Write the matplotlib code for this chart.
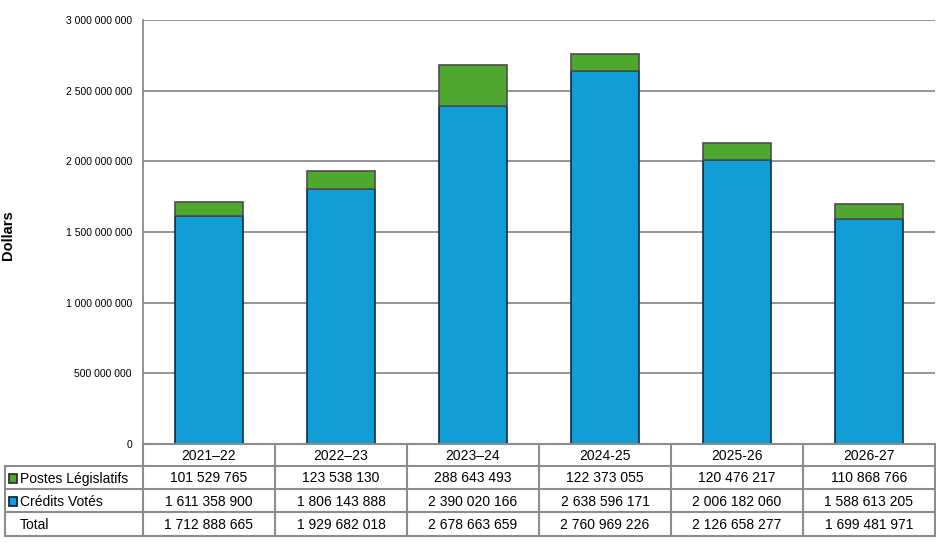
import numpy as np
import matplotlib
matplotlib.use("Agg")
import matplotlib.pyplot as plt
from matplotlib.ticker import FuncFormatter, MultipleLocator
from matplotlib.patches import Rectangle

plt.rcParams['font.family'] = ['Liberation Sans', 'DejaVu Sans']

# data
years = ['2021–22', '2022–23', '2023–24', '2024-25', '2025-26', '2026-27']
statutory = [101529765, 123538130, 288643493, 122373055, 120476217, 110868766]
voted = [1611358900, 1806143888, 2390020166, 2638596171, 2006182060, 1588613205]
totals = [1712888665, 1929682018, 2678663659, 2760969226, 2126658277, 1699481971]
row_names = ['Postes Législatifs', 'Crédits Votés', 'Total']

blue = '#119ed6'
green = '#4ea72e'
grid_col = '#8c8c8c'

W, H = 937, 557
fig = plt.figure(figsize=(W / 100, H / 100), dpi=100)

def fx(px):
    return px / W

def fy(py):
    return 1 - py / H

left, right, top, bottom = 143, 935, 20, 444
ax = fig.add_axes([fx(left), fy(bottom), (right - left) / W, (bottom - top) / H])

x = np.arange(len(years))
bw = 0.515
ax.bar(x, voted, bw, color=blue, edgecolor='#0d2b45', linewidth=1.2, zorder=3)
ax.bar(x, statutory, bw, bottom=voted, color=green, edgecolor='#4d4d4d', linewidth=1.2, zorder=3)

ax.set_xlim(-0.5, len(years) - 0.5)
ax.set_ylim(0, 3e9)
ax.yaxis.set_major_locator(MultipleLocator(5e8))
ax.yaxis.set_major_formatter(FuncFormatter(lambda v, p: f'{int(v):,}'.replace(',', ' ')))
ax.tick_params(axis='y', length=0, labelsize=7.5, pad=8)
ax.set_xticks([])
ax.grid(axis='y', color=grid_col, linewidth=1.3, zorder=0)
for s in ['top', 'right']:
    ax.spines[s].set_visible(False)
ax.spines['left'].set_color(grid_col)
ax.spines['left'].set_linewidth(1.3)
ax.spines['bottom'].set_color(grid_col)
ax.spines['bottom'].set_linewidth(1.3)

fig.text(fx(1), fy(235), 'Dollars', rotation=90, ha='left', va='center',
         fontsize=10.5, fontweight='bold')

# table below the chart, drawn in pixel coordinates
tab = fig.add_axes([0, 0, 1, 1], zorder=5)
tab.set_xlim(0, W)
tab.set_ylim(H, 0)
tab.axis('off')
tab.patch.set_alpha(0)

col_w = (right - left) / len(years)
col_x = [left + i * col_w for i in range(len(years) + 1)]
row_y = [444, 466, 489, 512, 536]
lw = 1.5

# header row (years)
tab.plot([left, right], [row_y[0], row_y[0]], color=grid_col, lw=lw)
for yy in row_y[1:]:
    tab.plot([5, right], [yy, yy], color=grid_col, lw=lw)
for xx in col_x:
    tab.plot([xx, xx], [row_y[0], row_y[-1]], color=grid_col, lw=lw)
tab.plot([5, 5], [row_y[1], row_y[-1]], color=grid_col, lw=lw)

def fmt(v):
    return f'{v:,}'.replace(',', ' ')

for i, yr in enumerate(years):
    cx = left + (i + 0.5) * col_w
    tab.text(cx, (row_y[0] + row_y[1]) / 2 + 1, yr, ha='center', va='center', fontsize=10)
    for r, vals in enumerate([statutory, voted, totals]):
        tab.text(cx, (row_y[r + 1] + row_y[r + 2]) / 2 + 1, fmt(vals[i]),
                 ha='center', va='center', fontsize=10)

swatch = [(green, '#333333'), (blue, '#0d2b45'), None]
for r, name in enumerate(row_names):
    cy = (row_y[r + 1] + row_y[r + 2]) / 2 + 1
    if swatch[r] is not None:
        tab.add_patch(Rectangle((9, cy - 4.5), 8.5, 8.5, facecolor=swatch[r][0],
                                edgecolor=swatch[r][1], lw=1.3))
    tab.text(20, cy, name, ha='left', va='center', fontsize=10)

fig.savefig('out.png', dpi=100)
